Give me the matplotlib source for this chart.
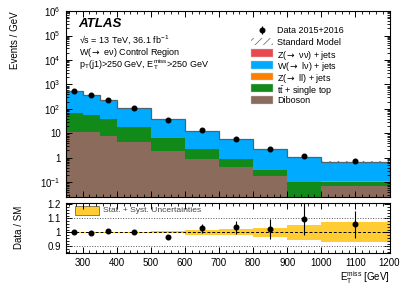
import matplotlib.pyplot as plt
import numpy as np
from matplotlib.patches import Rectangle
from matplotlib.ticker import FuncFormatter, LogLocator, MultipleLocator, NullFormatter

plt.switch_backend("Agg")
plt.rcParams["font.family"] = ["Liberation Sans", "DejaVu Sans"]
plt.rcParams["mathtext.fontset"] = "custom"
plt.rcParams["mathtext.rm"] = "Liberation Sans"
plt.rcParams["mathtext.it"] = "Liberation Sans:italic"
plt.rcParams["mathtext.bf"] = "Liberation Sans:bold"
plt.rcParams["mathtext.sf"] = "DejaVu Sans"
plt.rcParams["hatch.linewidth"] = 0.6

ARROW = r"$\mathsf{\rightarrow}$"

# binning in E_T^miss [GeV]
edges = [250, 300, 350, 400, 500, 600, 700, 800, 900, 1000, 1200]

# events / GeV
data = [540, 372, 240, 106, 36, 13.2, 5.8, 2.25, 1.16, 0.72]
data_err = [2.7, 2.2, 1.7, 1.1, 0.6, 0.42, 0.26, 0.16, 0.12, 0.066]
diboson = [11, 11, 7.7, 4.5, 1.86, 0.88, 0.43, 0.175, 0.01, 0.072]
ttbar_top = [55, 45, 29.3, 14.1, 4.34, 1.37, 0.47, 0.135, 0.09, 0.033]
z_ll = [1.5, 1.1, 0.7, 0.35, 0.12, 0.05, 0.02, 0.01, 0.005, 0.003]
w_lnu = [472, 316, 199, 86.9, 30.8, 10.5, 4.67, 1.87, 0.95, 0.57]
z_nunu = [0.8, 0.6, 0.4, 0.2, 0.08, 0.03, 0.015, 0.006, 0.003, 0.002]
# relative stat + syst uncertainty on the SM prediction
sm_rel_unc = [0.004, 0.004, 0.005, 0.005, 0.008, 0.016, 0.021, 0.031, 0.052, 0.072]

layers = [
    (diboson, "#8b6b5b", "Diboson"),
    (ttbar_top, "#118a1a", r"t$\bar{\mathrm{t}}$ + single top"),
    (z_ll, "#ff8000", f"Z({ARROW} ll) + jets"),
    (w_lnu, "#00aaff", f"W({ARROW} lν) + jets"),
    (z_nunu, "#e8484e", f"Z({ARROW} νν) + jets"),
]

e = np.array(edges, dtype=float)
centers = 0.5 * (e[:-1] + e[1:])
dat = np.array(data)
dat_err = np.array(data_err)

fig = plt.figure(figsize=(4.15, 2.85), dpi=100)
ax = fig.add_axes([0.158, 0.309, 0.7806, 0.652])
axr = fig.add_axes([0.158, 0.112, 0.7806, 0.177], sharex=ax)

base = np.full(len(data), 1e-4)
for vals, color, _ in layers:
    top = base + np.array(vals)
    ax.stairs(top, e, baseline=base, fill=True, color=color, lw=0)
    base = top
sm = base
unc = sm * np.array(sm_rel_unc)
ax.stairs(sm + unc, e, baseline=sm - unc, fill=True, facecolor="none",
          edgecolor="#666666", hatch="////", lw=0)
ax.stairs(sm, e, color="#4f6470", lw=0.9)

ax.errorbar(centers, dat, yerr=dat_err, fmt="o", color="k", ms=3.3, lw=0.8)

ax.set_yscale("log")
ax.set_ylim(0.025, 1e6)
ax.set_xlim(250, 1200)


def log_fmt(v, _):
    if np.isclose(v, 1):
        return "1"
    if np.isclose(v, 10):
        return "10"
    return r"$10^{%d}$" % round(np.log10(v))


ax.yaxis.set_major_locator(LogLocator(base=10, numticks=12))
ax.yaxis.set_minor_locator(LogLocator(base=10, subs=np.arange(2, 10), numticks=12))
ax.yaxis.set_major_formatter(FuncFormatter(log_fmt))
ax.yaxis.set_minor_formatter(NullFormatter())
ax.set_ylabel("Events / GeV", loc="top", fontsize=7)

for a in (ax, axr):
    a.xaxis.set_major_locator(MultipleLocator(100))
    a.xaxis.set_minor_locator(MultipleLocator(20))
    a.tick_params(which="both", direction="in", top=True, right=True, labelsize=7)
    a.tick_params(which="major", length=4, width=0.7)
    a.tick_params(which="minor", length=2, width=0.6)
    for s in a.spines.values():
        s.set_linewidth(0.8)
ax.tick_params(labelbottom=False)

ax.text(0.04, 0.914, "ATLAS", transform=ax.transAxes, fontsize=9.6,
        fontweight="bold", style="italic", va="baseline")
info = [
    "√s = 13 TeV, 36.1 fb$^{-1}$",
    f"W({ARROW} eν) Control Region",
    r"p$_{\mathrm{T}}$(j1)>250 GeV, E$_{\mathrm{T}}^{\mathrm{miss}}$>250 GeV",
]
for txt, yy in zip(info, (0.832, 0.764, 0.694)):
    ax.text(0.04, yy, txt, transform=ax.transAxes, fontsize=6.5, va="baseline")

# legend, drawn row by row
row0, row_step = 0.8995, 0.0629
hx, hw, hh, tx = 0.5716, 0.070, 0.0414, 0.6537
legend_rows = [("data", "Data 2015+2016"), ("sm", "Standard Model")]
legend_rows += [(color, label) for _, color, label in reversed(layers)]
for i, (kind, label) in enumerate(legend_rows):
    yc = row0 - i * row_step
    if kind == "data":
        ax.errorbar([hx + hw / 2], [yc], yerr=[0.02], fmt="o", color="k", ms=3.3,
                    lw=0.8, transform=ax.transAxes)
    elif kind == "sm":
        ax.add_patch(Rectangle((hx, yc - hh / 2), hw, hh, transform=ax.transAxes,
                               facecolor="white", edgecolor="#777777",
                               hatch="////", lw=0))
    else:
        ax.add_patch(Rectangle((hx, yc - hh / 2), hw, hh, transform=ax.transAxes,
                               facecolor=kind, edgecolor="#cccccc", lw=0.3))
    # the bar over t makes that label taller, nudge it down a little
    ty = yc - 0.0045 if label.startswith("t$") else yc
    ax.text(tx, ty, label, transform=ax.transAxes, fontsize=6.5, va="center_baseline")

# ratio panel
ratio = dat / sm
ratio_err = dat_err / sm
rel = np.array(sm_rel_unc)
axr.stairs(1 + rel, e, baseline=1 - rel, fill=True, color="#ffcc33", lw=0)
axr.axhline(1.0, color="k", ls="--", lw=0.7, dashes=(3, 2))
for yv in (0.9, 1.1):
    axr.axhline(yv, color="#555555", ls=":", lw=0.7)
axr.errorbar(centers, ratio, yerr=ratio_err, fmt="o", color="k", ms=3.3, lw=0.8)
axr.set_ylim(0.852, 1.212)
axr.yaxis.set_major_locator(MultipleLocator(0.1))
axr.yaxis.set_minor_locator(MultipleLocator(0.02))
axr.yaxis.set_major_formatter(FuncFormatter(lambda v, _: "%g" % round(v, 2)))
axr.set_ylabel("Data / SM", fontsize=7)
axr.set_xlabel(r"E$_{\mathrm{T}}^{\mathrm{miss}}$ [GeV]", loc="right", fontsize=7,
               labelpad=1)
axr.add_patch(Rectangle((0.029, 0.755), 0.074, 0.18, transform=axr.transAxes,
                        facecolor="#ffcc33", edgecolor="#7a6a50", lw=0.6))
axr.text(0.116, 0.845, "Stat. + Syst. Uncertainties", transform=axr.transAxes,
         fontsize=6.1, va="center", color="#444444")

ax.yaxis.set_label_coords(-0.142, 1.0)
axr.yaxis.set_label_coords(-0.127, 0.5)

fig.savefig("out.png", dpi=100)
plt.close(fig)
